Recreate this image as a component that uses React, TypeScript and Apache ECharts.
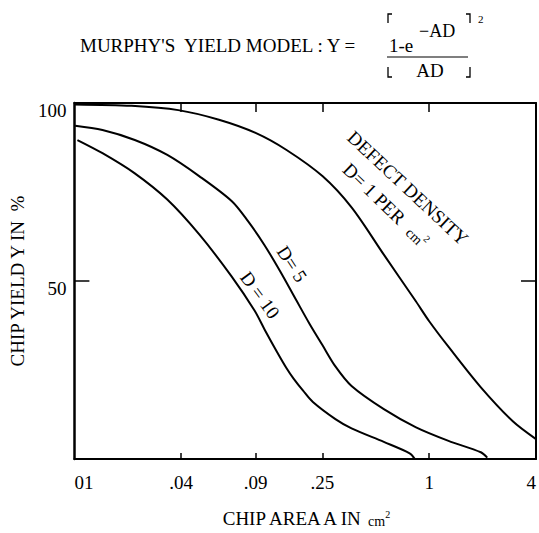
import React, { useEffect, useRef } from "react";
import * as echarts from "echarts";

// Chip area A (cm²) and yield Y (%), per defect density
const areaD1 = [0.01, 0.021, 0.0385, 0.0653, 0.105, 0.157, 0.251, 0.366, 0.555, 0.841, 1.0, 1.29, 1.95, 2.96, 4.0];
const yieldD1 = [99.6, 99.2, 98.0, 95.3, 91.6, 86.8, 79.4, 70.6, 57.4, 44.3, 38.7, 31.4, 20.2, 10.6, 5.6];

const areaD5 = [0.0101, 0.0144, 0.0219, 0.0334, 0.0507, 0.0772, 0.0952, 0.1175, 0.145, 0.1786, 0.2114, 0.25, 0.296, 0.365, 0.555, 0.843, 1.285, 1.954, 2.125];
const yieldD5 = [93.6, 92.4, 89.6, 85.4, 79.4, 72.4, 66.8, 60.2, 52.6, 44.5, 38.0, 32.0, 26.0, 20.5, 14.0, 8.9, 5.1, 1.9, 0.4];

const areaD10 = [0.0104, 0.0144, 0.0218, 0.0335, 0.0507, 0.0769, 0.1036, 0.118, 0.139, 0.157, 0.172, 0.1946, 0.221, 0.296, 0.365, 0.555, 0.776, 0.83];
const yieldD10 = [89.6, 85.9, 80.3, 72.8, 63.0, 51.3, 41.7, 36.4, 30.0, 25.5, 22.6, 19.2, 16.0, 11.2, 8.6, 4.8, 1.6, 0.0];

// x-axis tick positions (area, as drawn in the picture) and their labels
const xTickAreas = [0.01, 0.04, 0.105, 0.25, 1, 4];
const xTickLabels = ["01", ".04", ".09", ".25", "1", "4"];
const yTickValues = [50, 100];
const yTickLabels = ["50", "100"];

const FONT = '"Liberation Serif", "DejaVu Serif", serif';
const LOG = (v: number) => Math.log10(v);

export default function App() {
  const ref = useRef<HTMLDivElement>(null);
  useEffect(() => {
    if (!ref.current) return;
    const chart = echarts.init(ref.current, null, { renderer: "svg" });
    const toPts = (a: number[], y: number[]) => a.map((v, i) => [LOG(v), y[i]]);
    const xMin = LOG(xTickAreas[0]);
    const xMax = LOG(xTickAreas[xTickAreas.length - 1]);
    const xLabel = (v: number) => {
      const i = xTickAreas.findIndex((a) => Math.abs(LOG(a) - v) < 1e-9);
      return i >= 0 ? xTickLabels[i] : "";
    };
    const yLabel = (v: number) => {
      const i = yTickValues.indexOf(v);
      return i >= 0 ? yTickLabels[i] : "";
    };
    const interior = xTickAreas.slice(1, -1).map(LOG);
    const lineStyle = { color: "#000", width: 2 };
    const mkSeries = (a: number[], y: number[], name: string) => ({
      type: "line",
      name,
      data: toPts(a, y),
      smooth: 0.3,
      showSymbol: false,
      lineStyle: { color: "#000", width: 2 },
      xAxisIndex: 0,
      yAxisIndex: 0,
    });
    const txt = (text: string, x: number, y: number, size: number, rot = 0, align = "center") => ({
      type: "text",
      x,
      y,
      rotation: (rot * Math.PI) / 180,
      style: {
        text,
        fill: "#000",
        font: `${size}px ${FONT}`,
        align,
        verticalAlign: "middle",
        textAlign: align,
        textVerticalAlign: "middle",
      },
    });
    const pl = (points: number[][]) => ({
      type: "polyline",
      shape: { points },
      style: { stroke: "#000", lineWidth: 1.3, fill: null },
    });
    chart.setOption({
      animation: false,
      backgroundColor: "#fff",
      textStyle: { fontFamily: FONT, color: "#000" },
      grid: { left: 61, right: 2, top: 103, bottom: 73, containLabel: false },
      xAxis: [
        {
          type: "value",
          min: xMin,
          max: xMax,
          position: "bottom",
          name: "CHIP AREA A IN {c|cm}{s|2}",
          nameLocation: "middle",
          nameGap: 50,
          nameTextStyle: {
            fontFamily: FONT,
            fontSize: 19,
            color: "#000",
            verticalAlign: "top",
            rich: {
              c: { fontFamily: FONT, fontSize: 14, color: "#000", verticalAlign: "bottom" },
              s: { fontFamily: FONT, fontSize: 10, color: "#000", verticalAlign: "top", padding: [0, 0, 6, 0] },
            },
          },
          axisLine: { show: true, onZero: false, lineStyle },
          axisTick: { show: true, inside: true, length: 6, customValues: interior, lineStyle: { color: "#000", width: 1.5 } },
          axisLabel: {
            show: true,
            customValues: xTickAreas.map(LOG),
            formatter: xLabel,
            margin: 14,
            fontFamily: FONT,
            fontSize: 19,
            color: "#000",
            alignMinLabel: "left",
            alignMaxLabel: "right",
          },
          splitLine: { show: false },
        },
        {
          type: "value",
          min: xMin,
          max: xMax,
          position: "top",
          axisLine: { show: true, onZero: false, lineStyle },
          axisTick: { show: true, inside: true, length: 9, customValues: interior, lineStyle: { color: "#000", width: 1.5 } },
          axisLabel: { show: false },
          splitLine: { show: false },
        },
      ],
      yAxis: [
        {
          type: "value",
          min: 0,
          max: 100,
          interval: 50,
          position: "left",
          name: "CHIP YIELD Y IN  %",
          nameLocation: "middle",
          nameGap: 44,
          nameRotate: 90,
          nameTextStyle: { fontFamily: FONT, fontSize: 19, color: "#000" },
          axisLine: { show: true, onZero: false, lineStyle: { color: "#000", width: 2.5 } },
          axisTick: { show: true, inside: true, length: 15, customValues: [50], lineStyle: { color: "#000", width: 1.5 } },
          axisLabel: {
            show: true,
            customValues: yTickValues,
            formatter: yLabel,
            margin: 8,
            fontFamily: FONT,
            fontSize: 19,
            color: "#000",
            verticalAlign: "top",
            lineHeight: 14,
          },
          splitLine: { show: false },
        },
        {
          type: "value",
          min: 0,
          max: 100,
          interval: 50,
          position: "right",
          axisLine: { show: true, onZero: false, lineStyle },
          axisTick: { show: true, inside: true, length: 15, customValues: [50], lineStyle: { color: "#000", width: 1.5 } },
          axisLabel: { show: false },
          splitLine: { show: false },
        },
      ],
      series: [
        mkSeries(areaD1, yieldD1, "D=1"),
        mkSeries(areaD5, yieldD5, "D=5"),
        mkSeries(areaD10, yieldD10, "D=10"),
      ],
      graphic: [
        txt("MURPHY'S  YIELD MODEL : Y =", 80, 45, 19, 0, "left"),
        txt("1-e", 389, 45, 19, 0, "left"),
        txt("\u2212AD", 419, 31, 18, 0, "left"),
        {
          type: "line",
          shape: { x1: 387, y1: 57, x2: 468, y2: 57 },
          style: { stroke: "#000", lineWidth: 1.2 },
        },
        txt("AD", 430, 70, 19, 0, "center"),
        pl([[392, 14], [388, 14], [388, 23]]),
        pl([[388, 67], [388, 77], [392, 77]]),
        pl([[466, 14], [470, 14], [470, 23]]),
        pl([[470, 67], [470, 77], [466, 77]]),
        txt("2", 478, 19, 11, 0, "left"),
        txt("DEFECT DENSITY", 408, 188, 19, -43),
        {
          type: "text",
          x: 386,
          y: 205,
          rotation: (-44 * Math.PI) / 180,
          style: {
            text: "D= 1 PER {c|cm}{s|2}",
            fill: "#000",
            font: `19px ${FONT}`,
            align: "center",
            verticalAlign: "middle",
            textAlign: "center",
            textVerticalAlign: "middle",
            rich: {
              c: { fontFamily: FONT, fontSize: 14, fill: "#000", padding: [6, 0, 0, 6] },
              s: { fontFamily: FONT, fontSize: 10, fill: "#000", padding: [0, 0, 8, 0] },
            },
          },
        },
        txt("D= 5", 292, 264, 19, -57),
        txt("D = 10", 260, 295, 19, -54),
      ],
    });
    return () => chart.dispose();
  }, []);
  return (
    <div
      ref={ref}
      style={{ position: "absolute", left: 0, top: 0, width: 539, height: 533, background: "#fff" }}
    />
  );
}
